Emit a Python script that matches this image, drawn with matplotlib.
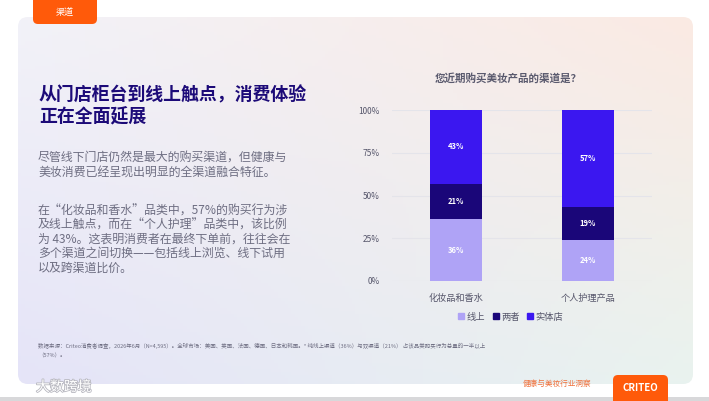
import numpy as np
import matplotlib
matplotlib.use("Agg")
import matplotlib.pyplot as plt
import matplotlib.patheffects as pe
from matplotlib.patches import FancyBboxPatch, Rectangle
from matplotlib.lines import Line2D

plt.rcParams['font.family'] = ['Noto Sans CJK SC', 'DejaVu Sans']

# ---- data ----
categories = ["化妆品和香水", "个人护理产品"]
series_names = ["线上", "两者", "实体店"]
online = [36, 24]
both = [21, 19]
store = [43, 57]
y_ticks = [0, 25, 50, 75, 100]
y_tick_labels = ["0%", "25%", "50%", "75%", "100%"]

chart_title = "您近期购买美妆产品的渠道是？"
tab_text = "渠道"
title_lines = ["从门店柜台到线上触点，消费体验", "正在全面延展"]
para1 = ["尽管线下门店仍然是最大的购买渠道，但健康与", "美妆消费已经呈现出明显的全渠道融合特征。"]
para2 = ["在“化妆品和香水”品类中，57%的购买行为涉",
         "及线上触点，而在“个人护理”品类中，该比例",
         "为 43%。这表明消费者在最终下单前，往往会在",
         "多个渠道之间切换——包括线上浏览、线下试用",
         "以及跨渠道比价。"]
footnote = ["数据来源：Criteo消费者调查，2026年6月（N=4,595）。全球市场：美国、英国、法国、德国、日本和韩国。* 纯线上渠道（36%）与双渠道（21%） 占该品类购买行为总量的一半以上",
            "（57%）。"]
footer_text = "健康与美妆行业洞察"
logo_text = "CRITEO"
watermark = "大数跨境"

colors = ["#AFA3F6", "#1A0679", "#3B17F0"]
orange = "#FF5A0A"

W, H = 709, 401
fig = plt.figure(figsize=(W / 100, H / 100), dpi=100)
fig.patch.set_facecolor("white")

# background axes in pixel coords
bg = fig.add_axes([0, 0, 1, 1])
bg.set_xlim(0, W)
bg.set_ylim(H, 0)
bg.axis("off")

# gradient card
tl = np.array([0xF2, 0xF2, 0xF8]) / 255
tr = np.array([0xFB, 0xEA, 0xE3]) / 255
bl = np.array([0xE5, 0xE4, 0xF8]) / 255
br = np.array([0xE9, 0xF3, 0xEF]) / 255
nx, ny = 200, 120
u = np.linspace(0, 1, nx)[None, :, None]
v = np.linspace(0, 1, ny)[:, None, None]
grad = (1 - u) * (1 - v) * tl + u * (1 - v) * tr + (1 - u) * v * bl + u * v * br
card_x0, card_y0, card_x1, card_y1 = 18, 17, 693, 384
im = bg.imshow(grad, extent=[card_x0, card_x1, card_y1, card_y0], aspect="auto", zorder=1)
card = FancyBboxPatch((card_x0, card_y0), card_x1 - card_x0, card_y1 - card_y0,
                      boxstyle="round,pad=0,rounding_size=10", transform=bg.transData,
                      facecolor="none", edgecolor="none")
bg.add_patch(card)
im.set_clip_path(card)

# orange tab
bg.add_patch(FancyBboxPatch((33, -10), 64, 34, boxstyle="round,pad=0,rounding_size=5",
                            facecolor=orange, edgecolor="none", zorder=3))
bg.text(65, 13, tab_text, color="white", fontsize=6.5, ha="center", va="center", zorder=4)

# title
for i, line in enumerate(title_lines):
    bg.text(39, 95 + i * 22, line, color="#1C0A78", fontsize=12.9, fontweight="bold",
            ha="left", va="center", zorder=4)

# paragraphs
for i, line in enumerate(para1):
    bg.text(38, 158 + i * 14.5, line, color="#6E6E82", fontsize=8.6, ha="left", va="center", zorder=4)
for i, line in enumerate(para2):
    bg.text(38, 211 + i * 14.2, line, color="#6E6E82", fontsize=8.6, ha="left", va="center", zorder=4)

# footnote
for i, line in enumerate(footnote):
    bg.text(38, 346 + i * 10, line, color="#6E6E82", fontsize=3.95, ha="left", va="center", zorder=4)

# footer
bg.text(557, 384, footer_text, color="#F0703A", fontsize=5.5, ha="center", va="center", zorder=4)
bg.add_patch(FancyBboxPatch((613, 375), 55, 40, boxstyle="round,pad=0,rounding_size=5",
                            facecolor=orange, edgecolor="none", zorder=3))
bg.text(640.5, 388, logo_text, color="white", fontsize=7, fontweight="bold",
        ha="center", va="center", zorder=4)
bg.add_patch(Rectangle((0, 397), W, 5, facecolor="#D8D8DA", edgecolor="none", zorder=2))
bg.text(36, 387, watermark, color="white", fontsize=10, ha="left", va="center", zorder=4,
        path_effects=[pe.withStroke(linewidth=1.2, foreground="#B8B8C0")])

# chart title
bg.text(508, 78, chart_title, color="#5A5A6E", fontsize=7.6, fontweight="bold",
        ha="center", va="center", zorder=4)

# chart axes
ax_l, ax_r, ax_t, ax_b = 392, 652, 110, 281
ax = fig.add_axes([ax_l / W, 1 - ax_b / H, (ax_r - ax_l) / W, (ax_b - ax_t) / H])
ax.patch.set_alpha(0)
x = np.arange(len(categories))
bottoms = np.zeros(len(categories))
for vals, col in zip([online, both, store], colors):
    vals = np.array(vals, dtype=float)
    ax.bar(x, vals, 0.4, bottom=bottoms, color=col, zorder=3)
    for xi, b, vv in zip(x, bottoms, vals):
        ax.text(xi, b + vv / 2, f"{int(vv)}%", color="white", fontsize=5.5, fontweight="bold",
                ha="center", va="center", zorder=4)
    bottoms += vals
ax.set_xlim(-0.485, 1.485)
ax.set_ylim(0, 100)
ax.set_yticks(y_ticks)
ax.set_yticklabels(y_tick_labels)
ax.set_xticks(x)
ax.set_xticklabels(categories)
ax.tick_params(axis="y", length=0, labelsize=6, labelcolor="#55556A", pad=9)
ax.tick_params(axis="x", length=0, labelsize=6.6, labelcolor="#55556A", pad=9)
ax.grid(axis="y", color="#E4E4EA", linewidth=0.8, zorder=0)
for s in ax.spines.values():
    s.set_visible(False)

handles = [Line2D([], [], marker="s", linestyle="", markersize=5, color=c) for c in colors]
leg = fig.legend(handles, series_names, loc="center", bbox_to_anchor=(510 / W, 1 - 317 / H),
                 ncol=3, frameon=False, fontsize=6.7, handletextpad=0.1, columnspacing=0.6,
                 handlelength=1.0)
for t in leg.get_texts():
    t.set_color("#55556A")

fig.savefig("out.png", dpi=100)
